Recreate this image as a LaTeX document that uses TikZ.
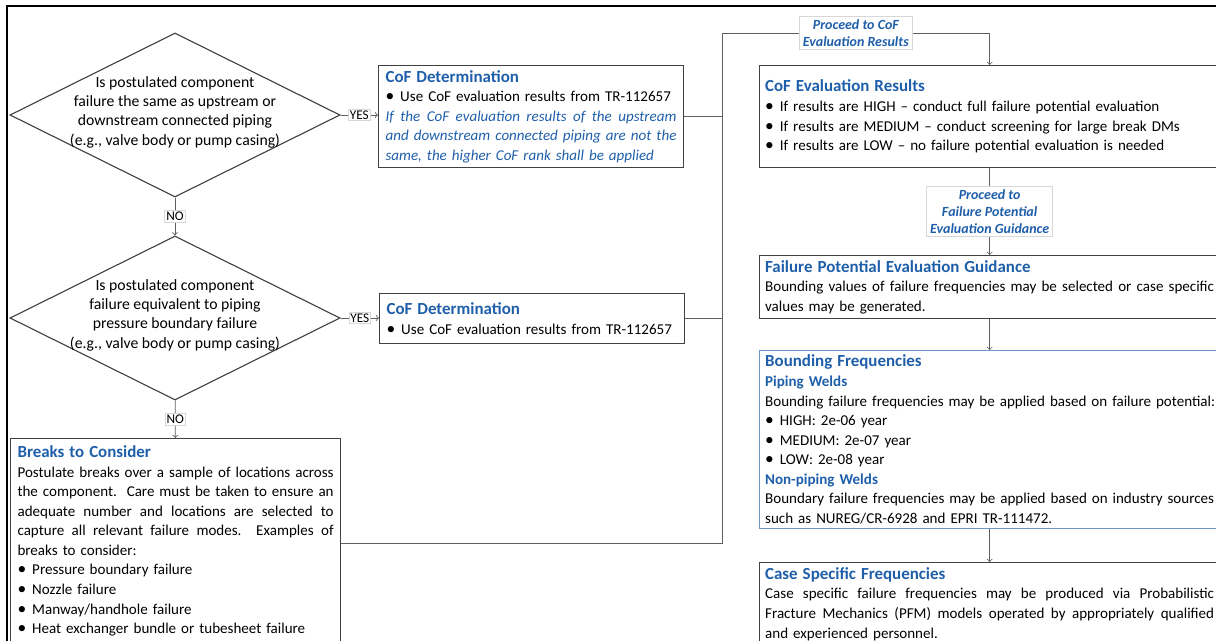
\documentclass[tikz,border=0pt]{standalone}
\usepackage{fontspec}
\setmainfont{Carlito}
\usepackage{tikz}
\usetikzlibrary{shapes.geometric, arrows}
\usetikzlibrary{positioning}

\definecolor{hdblue}{RGB}{31,95,170}
\definecolor{boxgray}{RGB}{64,64,64}
\definecolor{linegray}{RGB}{95,95,95}
\definecolor{tagline}{RGB}{215,215,215}
\definecolor{bndblue}{RGB}{110,150,200}

\newcommand{\hd}[1]{{\fontsize{12.1}{14}\selectfont\bfseries\color{hdblue}#1}}
\newcommand{\subhd}[1]{{\bfseries\color{hdblue}#1}}
\newcommand{\bul}[1]{\mbox{\makebox[10.5pt][l]{\fontsize{12.5}{14}\selectfont\textbullet}#1}}
% one justified line, spaces allowed to stretch
\newcommand{\jline}[1]{\makebox[\hsize][s]{\spaceskip=\fontdimen2\font
plus 3\fontdimen2\font minus 0.3\fontdimen2\font\relax #1}}

\tikzstyle{decision} = [diamond, minimum width=236pt, minimum height=117.3pt,
inner sep=0pt, draw=boxgray, line width=0.8pt]
\tikzstyle{qtext} = [align=center, inner sep=0pt, font=\fontsize{11.25}{13.8}\selectfont]
\tikzstyle{process} = [rectangle, draw=boxgray, line width=0.8pt, align=left,
inner xsep=5pt, inner ysep=1.5pt, anchor=north west]
\tikzstyle{cofbox} = [process, minimum width=218pt, text width=208pt]
\tikzstyle{resbox} = [process, minimum width=329pt, text width=321pt, inner xsep=4pt]
\tikzstyle{tag} = [fill=white, draw=tagline, font=\fontsize{9.5}{11}\selectfont,
inner sep=1pt]
\tikzstyle{note} = [fill=white, draw=tagline, align=center,
font=\bfseries\itshape, text=hdblue, inner xsep=2.5pt, inner ysep=2.5pt]
\tikzstyle{arrow} = [->, >=to, draw=linegray, line width=0.6pt]
\tikzstyle{link} = [draw=linegray, line width=0.6pt]

\begin{document}
\begin{tikzpicture}[x=0.715pt, y=0.715pt, font=\fontsize{10.75}{14}\selectfont]

\useasboundingbox (0,0) rectangle (1216,-640);
\clip (0,0) rectangle (1216,-640);
\draw [line width=1.5pt] (7,-6) rectangle (1300,-700);

% left column: the two questions
\node (dec1) [decision] at (175,-115) {};
\node (q1) [qtext] at (175,-112)
{Is postulated component\\ failure the same as upstream or\\
downstream connected piping\\ (e.g., valve body or pump casing)};

\node (dec2) [decision] at (175,-318) {};
\node (q2) [qtext] at (175,-315)
{Is postulated component\\ failure equivalent to piping\\
pressure boundary failure\\ (e.g., valve body or pump casing)};

\node (cof1) [cofbox, minimum height=72.9pt] at (378,-65)
{\hd{CoF Determination}\\
\bul{Use CoF evaluation results from TR-112657}\\
{\itshape\color{hdblue}\jline{If the CoF evaluation results of the upstream}}\\
{\itshape\color{hdblue}\jline{and downstream connected piping are not the}}\\
{\itshape\color{hdblue}same, the higher CoF rank shall be applied}};

\node (cof2) [cofbox, minimum height=35.8pt] at (379,-293)
{\hd{CoF Determination}\\
\bul{Use CoF evaluation results from TR-112657}};

\node (brk) [process, minimum width=236pt, text width=226pt, inner ysep=5pt]
at (10,-438)
{\hd{Breaks to Consider}\\
\jline{Postulate breaks over a sample of locations across}\\
\jline{the component.\ \ Care must be taken to ensure an}\\
\jline{adequate number and locations are selected to}\\
\jline{capture all relevant failure modes.\ \ Examples of}\\
breaks to consider:\\
\bul{Pressure boundary failure}\\
\bul{Nozzle failure}\\
\bul{Manway/handhole failure}\\
\bul{Heat exchanger bundle or tubesheet failure}\rule[-6pt]{0pt}{0pt}};

% right column
\node (res1) [resbox, minimum height=72.9pt] at (759,-65)
{\hd{CoF Evaluation Results}\\
\bul{If results are HIGH -- conduct full failure potential evaluation}\\
\bul{If results are MEDIUM -- conduct screening for large break DMs}\\
\bul{If results are LOW -- no failure potential evaluation is needed}};

\node (fpeg) [resbox, minimum height=45pt] at (759,-255)
{\hd{Failure Potential Evaluation Guidance}\\
\jline{Bounding values of failure frequencies may be selected or case specific}\\
values may be generated.};

\node (bnd) [resbox, draw=bndblue, minimum height=127.3pt] at (759,-350)
{\hd{Bounding Frequencies}\\
\subhd{Piping Welds}\\
\mbox{Bounding failure frequencies may be applied based on failure potential:}\\
\bul{HIGH: 2e-06 year}\\
\bul{MEDIUM: 2e-07 year}\\
\bul{LOW: 2e-08 year}\\
\subhd{Non-piping Welds}\\
\jline{Boundary failure frequencies may be applied based on industry sources}\\
such as NUREG/CR-6928 and EPRI TR-111472.};

\node (case) [resbox, inner ysep=3.5pt] at (759,-562)
{\hd{Case Specific Frequencies}\\
\jline{Case specific failure frequencies may be produced via Probabilistic}\\
\jline{Fracture Mechanics (PFM) models operated by appropriately qualified}\\
and experienced personnel.\rule[-10pt]{0pt}{0pt}};

\coordinate (jn) at (722,-33);

\draw [arrow] (dec1) -- node[tag]{NO} (dec2);
\draw [arrow] (dec2) -- node[tag]{NO} (brk);
\draw [arrow] (dec1.east) -- node[tag]{YES} (cof1.west |- dec1.east);
\draw [arrow] (dec2.east) -- node[tag]{YES} (cof2.west |- dec2.east);
\draw [link] (cof1.east) -- (cof1.east -| jn);
\draw [link] (cof2.east) -- (cof2.east -| jn);
\draw [arrow] (brk.east) -| (jn) -- node[note]{Proceed to CoF\\
Evaluation Results} (jn -| res1.north) -- (res1.north);
\draw [arrow] (res1) -- node[note]{Proceed to\\ Failure Potential\\
Evaluation Guidance} (fpeg);
\draw [arrow] (fpeg) -- (bnd);
\draw [arrow] (bnd) -- (case);

\end{tikzpicture}
\end{document}
